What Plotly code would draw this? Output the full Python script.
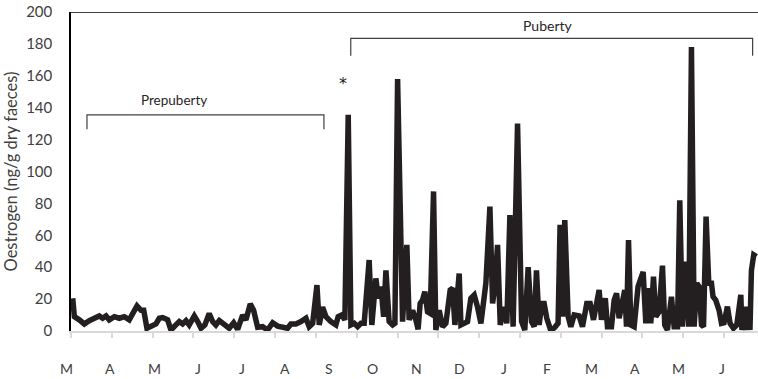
import plotly.graph_objects as go

# Sampling day (days since 1 March) and oestrogen (ng/g dry faeces)
days = [
    1.3, 2.5, 6.2, 9.9, 13.6, 17.4, 21.1, 23.6, 26.1, 28.5, 32.3, 36, 39.7, 43.4, 46, 49.2,
    52.2, 54.2, 56.6, 59.6, 63.3, 65.8, 68.3, 72, 74.5, 78.2, 80.7, 83.2, 85.7, 88.1, 91.9,
    94.4, 96.9, 99.8, 103, 105.6, 108, 110.5, 114.2, 117.9, 121.2, 124.2, 127.9, 130.4,
    133.6, 136.1, 139.1, 142.8, 146.5, 150.3, 154, 157.7, 161.4, 163.9, 167.6, 171.4,
    175.1, 177.5, 180.1, 183.3, 185, 187.5, 190, 193.7, 197.4, 199.1, 201.7, 204.1, 206.6,
    208.6, 211.1, 213.6, 216.1, 218.5, 222.2, 224.2, 227.2, 229, 231, 233, 234.7, 237.1,
    239.7, 241.4, 243.4, 247.1, 250.3, 252, 254.6, 257, 258.7, 260.2, 262, 263.7, 265.7,
    267.7, 270.2, 271.9, 274.4, 276.9, 279.4, 282.6, 284.4, 286.1, 289.3, 290.6, 293,
    295.5, 298, 300.5, 303, 305.5, 309.2, 312.2, 314.2, 315.9, 317.9, 319.9, 322.4, 324.8,
    327.1, 329.5, 332.8, 335.8, 338.2, 340.7, 343.2, 345.2, 346.9, 348.9, 350.9, 352.6,
    354.6, 357.6, 360.6, 363, 364.5, 366.3, 368, 370.5, 372.5, 375, 378.7, 381.2, 384.4,
    386.9, 389.4, 393.6, 395.3, 398.2, 399.8, 402.8, 404.8, 406.6, 408.5, 411, 412.7, 414,
    415.5, 417.2, 419.7, 422.6, 424.6, 426.4, 428.4, 430.4, 432.1, 434.1, 435.8, 438.3,
    440.8, 442.5, 444.5, 447.5, 449.5, 452, 453.7, 455.7, 457.4, 458.9, 460.4, 462.4,
    464.4, 466.4, 468.1, 469.9, 471.4, 473.3, 475.3, 477.3, 478.5, 480.5, 483, 484.8,
    486.7, 489.2, 491.2, 493.7, 496.2, 499.2, 500, 502.9, 504.1, 505.3, 506, 507.1, 508.8,
    510.8,
]
oestrogen = [
    20.5, 9, 7, 4.4, 6.5, 8, 9.4, 8, 9.4, 7, 9, 8, 9, 7, 11, 15.7,
    13, 13, 1.7, 2.7, 4.4, 8, 8.4, 7, 0.6, 3.8, 5.9, 4.4, 6.5, 3.8, 9.4,
    5.9, 1.7, 3.8, 11, 5.9, 3.8, 6.5, 3.8, 1.7, 5.2, 1, 10, 7,
    17, 13, 2.3, 2.7, 0.6, 5.2, 3.1, 2.7, 1.7, 4.4, 4.4, 5.9,
    8, 2.7, 4.8, 28.8, 3.8, 15, 9, 5.9, 3.8, 9, 10, 7, 135.5,
    3.8, 4.8, 2.7, 4.8, 4.8, 44.5, 3.8, 33, 20.5, 27.8, 9, 38, 5.9,
    3.8, 4.8, 158, 5.9, 54, 7, 13, 7, 1, 17.3, 19.4, 24.7, 12,
    11, 87.5, 0.6, 13, 2.7, 4.8, 25.7, 26.8, 3.8, 36, 3.8, 4.8,
    5.9, 20.5, 22.6, 15, 4.8, 30, 78, 17.3, 27.8, 54, 3.8, 15, 4.8,
    72.7, 2.7, 130, 5.9, 0.6, 40, 5.9, 2.7, 38, 3.8, 17.3, 17.3,
    8, 0.2, 2.3, 4.8, 66.5, 9, 69.6, 9, 2.7, 10, 9.4, 2.7, 17.3,
    17.3, 7, 25.7, 7, 20.5, 2.7, 2.7, 19.4, 23.6, 8, 17.3, 25.7, 2.7,
    57, 3.8, 2.7, 27.8, 34, 37, 4.8, 26.8, 4.8, 34, 9, 12,
    41, 3.8, 0.6, 21.5, 2.7, 2.7, 82, 2.7, 43.5, 19.4, 2.7, 178,
    2.7, 30, 27.8, 3.8, 2.7, 71.7, 30, 30, 21.5, 19.4, 13, 4.8,
    5.2, 15.3, 4.8, 1.7, 3.8, 22.6, 0.6, 15.3, 0.6, 15.3, 0.6, 38, 47.7,
    46.6,
]
month_labels = ["M", "A", "M", "J", "J", "A", "S", "O", "N", "D", "J", "F", "M", "A", "M", "J"]
month_len = 30.42
n_month_ticks = 17
y_ticks = list(range(0, 201, 20))

FONT = "Lato"
TXT = "#404040"

fig = go.Figure()
fig.add_trace(go.Scatter(
    x=days, y=oestrogen, mode="lines",
    line=dict(color="#231f20", width=5.5),
    hoverinfo="skip", showlegend=False,
))

W, H = 758, 379
ml, mr, mt, mb = 71, 0, 12, 48
pw = W - ml - mr

annotations = []
# month labels (Excel-style text row beneath the axis)
for i, lab in enumerate(month_labels):
    px = 66.7 + 43.7 * i
    annotations.append(dict(
        x=(px - ml) / pw, xref="paper", y=0, yref="paper", yshift=-37,
        text=lab, showarrow=False, xanchor="center", yanchor="middle",
        font=dict(family=FONT, size=14, color=TXT),
    ))

annotations += [
    dict(x=77, y=145, xref="x", yref="y", text="Prepuberty", showarrow=False,
         font=dict(family=FONT, size=13.5, color="#262626"), xanchor="center", yanchor="middle"),
    dict(x=355, y=191.5, xref="x", yref="y", text="Puberty", showarrow=False,
         font=dict(family=FONT, size=14, color="#262626"), xanchor="center", yanchor="middle"),
    dict(x=203, y=155, xref="x", yref="y", text="*", showarrow=False,
         font=dict(family="DejaVu Sans", size=16, color="#1a1a1a"), xanchor="center", yanchor="middle"),
]

bk = dict(color="#404040", width=1.2)
shapes = [
    # top frame line
    dict(type="line", xref="paper", yref="y", x0=0, x1=1, y0=200, y1=200,
         line=dict(color="#000000", width=1.5)),
    # Prepuberty bracket
    dict(type="path", xref="x", yref="y",
         path="M 11.9,126.5 L 11.9,135.5 L 188.5,135.5 L 188.5,126.5", line=bk),
    # Puberty bracket
    dict(type="path", xref="x", yref="y",
         path="M 208.5,172.5 L 208.5,183.5 L 508,183.5 L 508,172.5", line=bk),
]

fig.update_layout(
    width=W, height=H,
    margin=dict(l=ml, r=mr, t=mt, b=mb, autoexpand=False),
    paper_bgcolor="white", plot_bgcolor="white",
    xaxis=dict(
        range=[0, 512], showgrid=False, zeroline=False,
        tickvals=[i * month_len for i in range(n_month_ticks)],
        showticklabels=False, ticks="outside", ticklen=5, tickcolor="#d9d9d9", tickwidth=1.5,
        showline=True, linecolor="#d9d9d9", linewidth=1.5,
    ),
    yaxis=dict(
        range=[0, 200], tickvals=y_ticks, showgrid=False, zeroline=False,
        showline=True, linecolor="#000000", linewidth=1.5,
        ticks="", ticklabelstandoff=14,
        tickfont=dict(family=FONT, size=15, color=TXT),
        title=dict(text="Oestrogen (ng/g dry faeces)", standoff=4,
                   font=dict(family=FONT, size=16.5, color=TXT)),
    ),
    annotations=annotations,
    shapes=shapes,
)

fig.write_html("out.html", config={"displayModeBar": False},
               post_script="document.body.style.margin='0';")
